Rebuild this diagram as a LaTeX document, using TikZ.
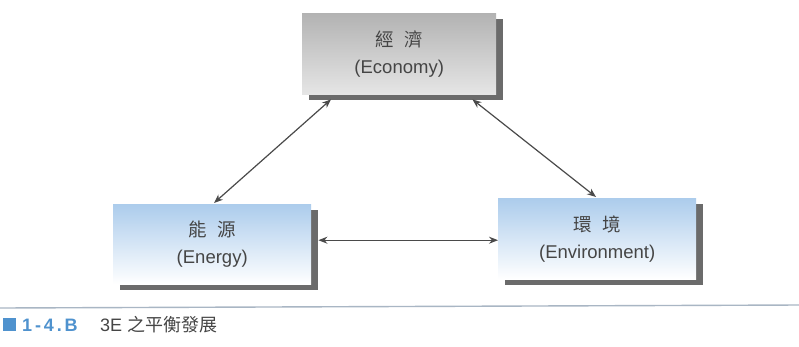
\documentclass[tikz,border=0pt]{standalone}
\usepackage{fontspec}
\setmainfont{Liberation Sans}
\newfontfamily\cjk{Noto Sans CJK TC}
\usetikzlibrary{arrows.meta,shadows,calc}
\definecolor{txtgray}{HTML}{454545}
\definecolor{boxblue}{RGB}{172,204,236}
\definecolor{capblue}{HTML}{4F92CE}
\definecolor{rulecol}{HTML}{A9B6C4}
\definecolor{arrowcol}{HTML}{4A4A4A}
\begin{document}
\begin{tikzpicture}[x=1pt,y=-1pt,
  box/.style={rectangle, anchor=north west, inner sep=0pt,
    text=txtgray, align=center, font=\fontsize{18.5}{27}\selectfont,
    drop shadow={shadow xshift=7pt, shadow yshift=-6pt, fill=black!58, opacity=1}},
  graybox/.style={box, top color=black!30, bottom color=black!10},
  bluebox/.style={box, top color=boxblue, bottom color=white},
  link/.style={draw=arrowcol, line width=1.2pt,
    {Stealth[length=9pt,width=7pt]}-{Stealth[length=9pt,width=7pt]}}
]
\useasboundingbox (0,0) rectangle (799,346);
\fill[white] (0,0) rectangle (799,346);

\node[graybox, minimum width=194pt, minimum height=81pt] (eco) at (302,13)
  {{\cjk 經\hspace{0.6em}濟}\\(Economy)};
\node[bluebox, minimum width=198pt, minimum height=80pt] (ene) at (113,204)
  {{\cjk 能\hspace{0.6em}源}\\(Energy)};
\node[bluebox, minimum width=198pt, minimum height=81pt] (env) at (498,198)
  {{\cjk 環\hspace{0.6em}境}\\(Environment)};

\draw[link] ($(eco.south west)+(29,5)$) -- ($(ene.north west)+(101,-1)$);
\draw[link] ($(eco.south east)+(-24,5)$) -- ($(env.north west)+(98,-1)$);
\draw[link] ($(ene.east)+(7,-4)$) -- ($(env.west)+(0,1.5)$);

\coordinate (rl) at (0,308);
\coordinate (rr) at (799,305);
\draw[rulecol, line width=1.4pt] (rl) -- (rr);

\node[fill=capblue, minimum size=13pt, inner sep=0pt, anchor=north west] (sq) at (3,318) {};
\node[anchor=west, inner sep=0pt, text=capblue, font=\fontsize{18}{18}\selectfont\bfseries\addfontfeature{LetterSpace=16}] (num) at (22,325) {1-4.B};
\node[anchor=west, inner sep=0pt, text=txtgray, font=\fontsize{18}{18}\selectfont] (cap) at (100,325) {3E {\cjk 之平衡發展}};
\end{tikzpicture}
\end{document}
